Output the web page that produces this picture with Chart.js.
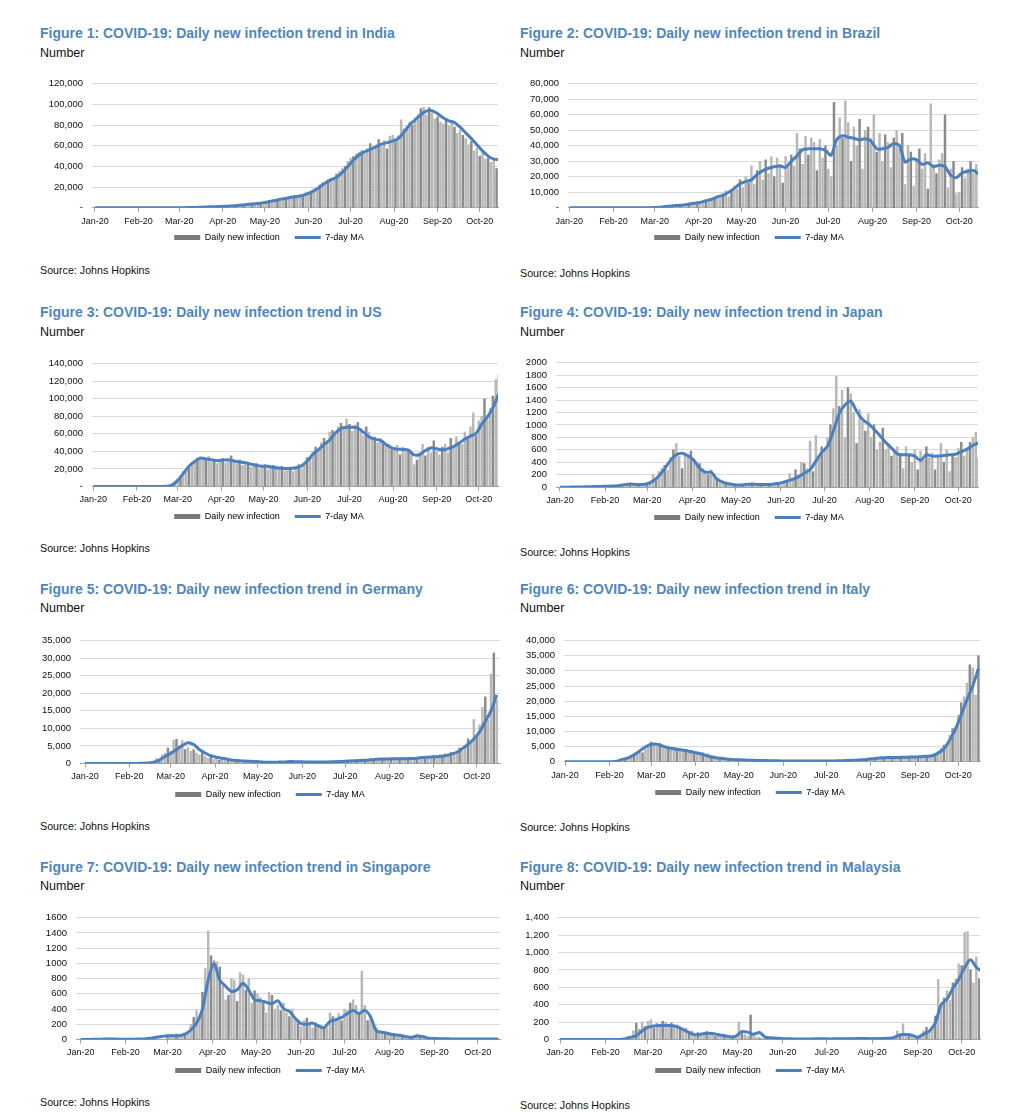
<!DOCTYPE html>
<html>
<head>
<meta charset="utf-8">
<script src="https://cdn.jsdelivr.net/npm/chart.js@4.4.1/dist/chart.umd.min.js"></script>
<style>
  body { margin: 0; background: #fff; font-family: "Liberation Sans", Arial, sans-serif; }
  #page { position: relative; width: 1011px; height: 1116px; overflow: hidden; }
  .title { position: absolute; font-size: 14px; line-height: 14px; font-weight: bold; color: #4f86bd; white-space: nowrap; }
  .unit { position: absolute; font-size: 12.5px; line-height: 12.5px; color: #111; }
  .source { position: absolute; font-size: 10.7px; line-height: 10.7px; color: #111; white-space: nowrap; }
  canvas { position: absolute; }
</style>
</head>
<body>
<div id="page"></div>
<script>
// x positions are days counted from 22 Jan 2020; axis labels sit on the 22nd of each month
const monthDays = [0, 31, 60, 91, 121, 152, 182, 213, 244, 274];
const monthLabels = ['Jan-20', 'Feb-20', 'Mar-20', 'Apr-20', 'May-20', 'Jun-20', 'Jul-20', 'Aug-20', 'Sep-20', 'Oct-20'];

// 7-day moving averages, one value every 4 days from 22 Jan
const maStep = 4;
// daily new infections, one bar every 2 days from each country's start day
const barStep = 2;

const indiaMA = [
  0, 0, 0, 0, 0, 0, 0, 0, 0, 0,
  0, 10, 20, 40, 70, 100, 150, 250, 400, 600,
  800, 1000, 1200, 1400, 1700, 2000, 2600, 3200, 3600, 4200,
  5000, 6000, 7000, 8200, 9200, 10200, 11000, 12000, 14000, 16500,
  20000, 24000, 27000, 29500, 34000, 40000, 46000, 51000, 54000, 56500,
  59000, 61500, 63000, 64500, 67000, 73000, 80000, 85000, 90000, 93500,
  94000, 91000, 87000, 84000, 82500, 78000, 72500, 67000, 61000, 55000,
  50000, 47000, 46500];
const indiaBarStart = 70;
const indiaBars = [
  350, 450, 500, 650, 700, 850, 900, 1050, 1100, 1250,
  1300, 1500, 1600, 1800, 1900, 2300, 2500, 2900, 3100, 3400,
  3500, 3800, 4000, 4800, 4900, 5600, 6000, 6600, 6800, 7500,
  7900, 8800, 9400, 9900, 9500, 10900, 11500, 11200, 12000, 13000,
  14500, 15000, 16000, 18500, 19500, 22000, 24500, 25000, 27000, 28500,
  29000, 32500, 35000, 38000, 40000, 45000, 48000, 49500, 52500, 54000,
  55000, 52000, 57000, 62000, 56000, 60500, 66000, 62000, 65000, 57000,
  69000, 70000, 64000, 69500, 85000, 76000, 78500, 83000, 80000, 87000,
  90000, 96000, 97500, 90000, 97000, 92000, 86000, 88000, 83000, 81000,
  86000, 79000, 82000, 78000, 72000, 75000, 70000, 67000, 61000, 64000,
  55000, 58000, 50000, 54000, 47000, 48000, 44000, 46000, 38000, 45000];

const brazilMA = [
  0, 0, 0, 0, 0, 0, 0, 0, 0, 0,
  0, 5, 20, 50, 100, 200, 400, 800, 1200, 1500,
  1800, 2400, 3000, 3500, 4500, 5500, 7000, 8000, 10000, 12500,
  15500, 17000, 18000, 21500, 24000, 25500, 26500, 27000, 26000, 30000,
  33500, 37500, 38000, 38000, 38000, 37000, 34000, 44000, 46500, 45500,
  44800, 43800, 44500, 43000, 38000, 38000, 39000, 41500, 40000, 29500,
  31500, 31000, 28000, 29000, 26500, 27500, 26500, 21000, 19500, 22500,
  23500, 24000, 21500];
const brazilBarStart = 60;
const brazilBars = [
  200, 300, 500, 700, 1000, 1100, 1300, 1500, 1700, 2000,
  1600, 2500, 2200, 3200, 3000, 3800, 3500, 5000, 4500, 5500,
  5000, 6500, 7500, 6000, 9000, 11000, 7000, 11500, 14000, 12000,
  18000, 13000, 20000, 16000, 27000, 15000, 24000, 30000, 18000, 31000,
  22000, 33000, 20000, 32000, 28000, 16000, 33000, 26000, 34000, 27000,
  48000, 38000, 28000, 46000, 34000, 45000, 42000, 24000, 44000, 32000,
  40000, 25000, 20000, 68000, 40000, 58000, 45000, 69000, 55000, 30000,
  52000, 40000, 57000, 25000, 50000, 52000, 45000, 60000, 36000, 48000,
  30000, 47000, 42000, 26000, 45000, 50000, 38000, 48000, 15000, 40000,
  36000, 14000, 30000, 38000, 25000, 35000, 12000, 67000, 28000, 22000,
  31000, 35000, 60000, 13000, 25000, 30000, 9000, 10000, 26000, 19000,
  25000, 30000, 22000, 28000, 20000];

const usMA = [
  0, 0, 0, 0, 0, 0, 0, 0, 0, 0,
  10, 30, 80, 300, 1500, 7000, 15000, 23000, 28500, 32500,
  31500, 30500, 29500, 30000, 30500, 29000, 28000, 27000, 25500, 24000,
  23000, 23000, 22000, 21000, 20600, 20600, 21300, 23500, 29000, 36500,
  42000, 48000, 53000, 61000, 66000, 67500, 67500, 66500, 62000, 56500,
  54000, 52500, 48000, 44000, 42500, 42300, 41600, 36000, 36500, 41000,
  44000, 43000, 41600, 43000, 45500, 49500, 54000, 57500, 60400, 71000,
  79000, 90000, 105000];
const usBarStart = 50;
const usBars = [
  300, 600, 1000, 2500, 5000, 8000, 11000, 17000, 19000, 21000,
  25000, 28000, 31000, 33000, 32000, 30000, 34000, 28000, 30000, 26000,
  29000, 32000, 27000, 30000, 35000, 28000, 26000, 30000, 24000, 25000,
  27000, 22000, 24000, 26000, 20000, 23000, 25000, 19000, 22000, 24000,
  20000, 21000, 23000, 18000, 20000, 22000, 17000, 22000, 25000, 20000,
  26000, 33000, 31000, 40000, 45000, 42000, 50000, 55000, 52000, 62000,
  64000, 60000, 68000, 72000, 65000, 77000, 71000, 63000, 70000, 73000,
  66000, 58000, 68000, 62000, 55000, 56000, 50000, 55000, 52000, 46000,
  48000, 42000, 45000, 47000, 36000, 45000, 42000, 40000, 38000, 25000,
  30000, 36000, 48000, 35000, 45000, 38000, 52000, 40000, 36000, 45000,
  48000, 38000, 55000, 44000, 57000, 50000, 48000, 62000, 56000, 68000,
  84000, 58000, 75000, 80000, 100000, 76000, 89000, 103000, 122000, 127000];

const japanMA = [
  0, 0, 2, 3, 5, 8, 10, 12, 15, 18,
  25, 40, 50, 45, 42, 55, 100, 180, 300, 430,
  520, 545, 505, 434, 306, 240, 240, 128, 80, 55,
  40, 35, 45, 50, 45, 42, 45, 55, 70, 95,
  125, 165, 225, 280, 420, 560, 660, 900, 1180, 1320,
  1378, 1220, 1090, 1020, 930, 830, 720, 630, 536, 520,
  520, 500, 430, 520, 500, 500, 510, 520, 530, 570,
  612, 673, 714];
const japanBarStart = 30;
const japanBars = [
  5, 10, 8, 15, 20, 10, 30, 40, 60, 35,
  50, 40, 60, 30, 45, 50, 70, 200, 150, 250,
  300, 350, 280, 480, 600, 700, 500, 300, 500, 520,
  580, 450, 400, 380, 300, 250, 200, 280, 220, 150,
  100, 80, 60, 50, 40, 30, 45, 35, 30, 50,
  40, 55, 60, 40, 50, 35, 45, 60, 55, 50,
  70, 60, 50, 100, 220, 150, 280, 200, 400, 380,
  300, 740, 250, 830, 500, 650, 600, 800, 1000, 1260,
  1780, 1300, 1560, 800, 1600, 1500, 1200, 700, 1250, 1050,
  900, 1180, 800, 1000, 600, 720, 950, 600, 700, 500,
  580, 650, 520, 300, 650, 500, 400, 600, 280, 580,
  430, 650, 470, 550, 280, 500, 700, 400, 600, 250,
  500, 480, 620, 720, 500, 600, 720, 800, 880, 480];

const germanyMA = [
  0, 0, 0, 0, 0, 2, 5, 5, 10, 30,
  80, 150, 400, 1000, 2000, 2900, 4000, 5100, 5900, 5400,
  4000, 3000, 2200, 1800, 1500, 1200, 900, 800, 700, 620,
  550, 450, 380, 360, 400, 440, 550, 500, 480, 420,
  400, 430, 450, 470, 520, 600, 700, 780, 850, 900,
  1050, 1200, 1260, 1300, 1350, 1350, 1350, 1400, 1500, 1700,
  1800, 1900, 2000, 2200, 2600, 3200, 4200, 5500, 7000, 9000,
  12000, 15000, 19500];
const germanyBarStart = 40;
const germanyBars = [
  50, 100, 200, 300, 500, 1500, 1000, 2500, 3000, 4500,
  3500, 6600, 6900, 5000, 6500, 4000, 4600, 3500, 4000, 3000,
  2500, 3000, 2000, 1500, 1800, 1200, 1600, 900, 1100, 800,
  1000, 700, 900, 600, 800, 500, 700, 400, 600, 350,
  500, 300, 400, 350, 300, 450, 250, 400, 300, 350,
  400, 600, 500, 700, 450, 500, 400, 350, 500, 300,
  400, 500, 350, 450, 550, 600, 500, 700, 800, 600,
  900, 700, 850, 1000, 800, 1100, 900, 1300, 1200, 1000,
  1400, 1200, 1300, 1500, 1100, 1400, 1200, 1500, 1300, 1400,
  1500, 1200, 1400, 1600, 1300, 1500, 1700, 2000, 1800, 1600,
  2000, 1900, 2300, 1800, 2500, 2000, 2800, 2500, 3200, 2600,
  3000, 4500, 3500, 5000, 7000, 6000, 12500, 7500, 11000, 16000,
  19000, 12500, 25500, 31500, 18000];

const italyMA = [
  0, 0, 0, 0, 0, 0, 0, 0, 30, 200,
  800, 1300, 2300, 3600, 4900, 5800, 5800, 5200, 4600, 4300,
  4000, 3700, 3300, 2900, 2400, 1850, 1400, 1150, 950, 800,
  700, 625, 550, 480, 430, 390, 340, 313, 300, 290,
  280, 270, 260, 250, 250, 260, 280, 300, 350, 420,
  480, 560, 650, 900, 1100, 1300, 1380, 1430, 1460, 1500,
  1550, 1600, 1700, 1800, 2000, 2900, 4300, 7200, 10800, 15500,
  20500, 25000, 30800];
const italyBarStart = 30;
const italyBars = [
  20, 50, 100, 200, 400, 600, 900, 1200, 1500, 2000,
  2500, 3500, 3000, 4200, 5000, 6500, 5500, 5200, 6000, 5500,
  4800, 5000, 4200, 4600, 3800, 4500, 3600, 4000, 3200, 3800,
  3000, 3200, 2600, 3000, 2300, 2600, 1900, 2000, 1500, 1600,
  1200, 1300, 1000, 900, 800, 900, 700, 600, 650, 500,
  450, 500, 400, 350, 380, 300, 350, 330, 250, 300,
  280, 250, 300, 200, 250, 220, 190, 230, 200, 180,
  250, 190, 230, 280, 200, 300, 280, 250, 350, 300,
  380, 400, 300, 450, 400, 500, 550, 600, 800, 900,
  1000, 1300, 1100, 1400, 1200, 1500, 1300, 1600, 1400, 1300,
  1600, 1500, 1400, 1700, 1600, 1500, 1700, 1800, 1600, 1900,
  1800, 2000, 2200, 2500, 2800, 3500, 4500, 5500, 5000, 8800,
  11000, 11500, 15500, 19500, 21500, 26000, 32000, 31000, 22000, 35000];

const singaporeMA = [
  0, 1, 2, 3, 5, 6, 5, 4, 3, 4,
  5, 8, 15, 30, 40, 48, 50, 50, 70, 125,
  217, 400, 780, 1000, 780, 700, 633, 654, 738, 650,
  520, 510, 490, 470, 510, 404, 370, 280, 210, 200,
  215, 180, 154, 238, 260, 290, 340, 385, 340, 383,
  300, 113, 95, 80, 62, 55, 40, 28, 45, 40,
  18, 12, 10, 9, 8, 8, 6, 8, 6, 7,
  7, 6, 7];
const singaporeBarStart = 60;
const singaporeBars = [
  40, 60, 50, 70, 50, 60, 80, 100, 200, 290,
  380, 280, 620, 930, 1426, 1100, 1040, 1020, 950, 700,
  520, 580, 800, 780, 500, 880, 850, 650, 800, 480,
  640, 600, 550, 480, 350, 620, 580, 400, 450, 380,
  480, 350, 300, 400, 250, 230, 170, 250, 280, 200,
  150, 220, 200, 180, 170, 150, 350, 300, 250, 340,
  250, 400, 380, 480, 520, 450, 330, 900, 450, 250,
  300, 180, 150, 100, 90, 80, 70, 60, 80, 50,
  60, 50, 40, 35, 30, 50, 70, 45, 30, 25,
  20, 15, 25, 12, 10, 15, 8, 12, 10, 8,
  10, 8, 6, 12, 5, 10, 8, 6, 8, 10,
  6, 8, 5, 10, 7];

const malaysiaMA = [
  0, 0, 0, 0, 0, 0, 0, 0, 0, 0,
  1, 5, 25, 44, 100, 140, 155, 160, 160, 160,
  145, 115, 80, 55, 60, 72, 70, 55, 45, 30,
  40, 90, 85, 60, 80, 28, 20, 15, 10, 8,
  7, 6, 6, 7, 8, 8, 7, 8, 9, 10,
  10, 11, 11, 10, 10, 12, 15, 25, 55, 58,
  50, 25, 62, 98, 190, 400, 463, 590, 690, 828,
  918, 830, 780];
const malaysiaBarStart = 40;
const malaysiaBars = [
  2, 5, 10, 30, 40, 100, 190, 120, 200, 150,
  210, 230, 130, 190, 160, 210, 200, 170, 190, 140,
  170, 130, 110, 130, 90, 100, 60, 80, 50, 60,
  90, 70, 50, 40, 70, 30, 60, 40, 50, 20,
  30, 200, 80, 60, 40, 280, 60, 30, 20, 15,
  20, 10, 15, 8, 10, 5, 12, 6, 8, 5,
  6, 10, 5, 8, 12, 6, 10, 5, 8, 10,
  12, 8, 10, 6, 15, 10, 8, 12, 10, 15,
  8, 12, 10, 15, 8, 10, 12, 20, 15, 10,
  20, 15, 12, 25, 30, 100, 50, 180, 70, 40,
  60, 40, 20, 30, 100, 140, 90, 150, 270, 690,
  400, 480, 560, 450, 650, 700, 870, 850, 1230, 1240,
  800, 650, 950, 700, 800];

const figures = [
  { title: 'Figure 1: COVID-19: Daily new infection trend in India', ma: indiaMA, bars: indiaBars, barStart: indiaBarStart,
    yMax: 120000, yStep: 20000, zero: '-', comma: true,
    left: 40, plotLeft: 92, plotRight: 498, plotTop: 77.3, plotBottom: 208.3, xMin: -2.1, xMax: 287,
    titleY: 32.7, unitY: 53.3, legendY: 238, sourceY: 270.7 },
  { title: 'Figure 2: COVID-19: Daily new infection trend in Brazil', ma: brazilMA, bars: brazilBars, barStart: brazilBarStart,
    yMax: 80000, yStep: 10000, zero: '-', comma: true,
    left: 520, plotLeft: 568, plotRight: 978, plotTop: 77.3, plotBottom: 208.3, xMin: -0.9, xMax: 287.2,
    titleY: 32.7, unitY: 53.3, legendY: 238, sourceY: 273 },
  { title: 'Figure 3: COVID-19: Daily new infection trend in US', ma: usMA, bars: usBars, barStart: usBarStart,
    yMax: 140000, yStep: 20000, zero: '-', comma: true,
    left: 40, plotLeft: 92, plotRight: 498, plotTop: 356.7, plotBottom: 485.7, xMin: -0.9, xMax: 287.6,
    titleY: 311.7, unitY: 332, legendY: 515.7, sourceY: 548 },
  { title: 'Figure 4: COVID-19: Daily new infection trend in Japan', ma: japanMA, bars: japanBars, barStart: japanBarStart,
    yMax: 2000, yStep: 200, zero: '0', comma: false,
    left: 520, plotLeft: 556, plotRight: 978, plotTop: 356, plotBottom: 486.7, xMin: -2.75, xMax: 287.5,
    titleY: 311.7, unitY: 332, legendY: 517, sourceY: 552 },
  { title: 'Figure 5: COVID-19: Daily new infection trend in Germany', ma: germanyMA, bars: germanyBars, barStart: germanyBarStart,
    yMax: 35000, yStep: 5000, zero: '0', comma: true,
    left: 40, plotLeft: 80, plotRight: 500, plotTop: 633.7, plotBottom: 763, xMin: -3.5, xMax: 290.3,
    titleY: 588.7, unitY: 608, legendY: 794, sourceY: 826 },
  { title: 'Figure 6: COVID-19: Daily new infection trend in Italy', ma: italyMA, bars: italyBars, barStart: italyBarStart,
    yMax: 40000, yStep: 5000, zero: '0', comma: true,
    left: 520, plotLeft: 564, plotRight: 980, plotTop: 633.7, plotBottom: 761.3, xMin: -0.7, xMax: 289.1,
    titleY: 588.7, unitY: 608, legendY: 792, sourceY: 827 },
  { title: 'Figure 7: COVID-19: Daily new infection trend in Singapore', ma: singaporeMA, bars: singaporeBars, barStart: singaporeBarStart,
    yMax: 1600, yStep: 200, zero: '0', comma: false,
    left: 40, plotLeft: 76, plotRight: 500, plotTop: 911, plotBottom: 1039, xMin: -3.2, xMax: 289.3,
    titleY: 866.7, unitY: 886, legendY: 1070, sourceY: 1102.7 },
  { title: 'Figure 8: COVID-19: Daily new infection trend in Malaysia', ma: malaysiaMA, bars: malaysiaBars, barStart: malaysiaBarStart,
    yMax: 1400, yStep: 200, zero: '0', comma: true,
    left: 520, plotLeft: 558, plotRight: 980, plotTop: 911, plotBottom: 1039, xMin: -1.4, xMax: 286.5,
    titleY: 866.7, unitY: 886, legendY: 1070, sourceY: 1105 }
];

const FONT = '"Liberation Sans", Arial, sans-serif';
const LINE_BLUE = '#4a80bd';
const BAR_GREY = '#7a7a7a';
const page = document.getElementById('page');

function addText(cls, text, x, y, size) {
  const d = document.createElement('div');
  d.className = cls;
  d.textContent = text;
  d.style.left = x + 'px';
  d.style.top = (y - size / 2) + 'px';
  page.appendChild(d);
}

function toPoints(start, step, values) {
  return values.map((v, i) => ({ x: start + i * step, y: v }));
}

figures.forEach(f => {
  addText('title', f.title, f.left, f.titleY, 14);
  addText('unit', 'Number', f.left, f.unitY, 12.5);
  addText('source', 'Source: Johns Hopkins', f.left, f.sourceY, 10.7);

  const padTop = 8;
  const legendPad = 5;
  const xAxisH = f.legendY - f.plotBottom - legendPad - 4.5;
  const legendH = 9 + legendPad + 10;
  const canvas = document.createElement('canvas');
  const w = Math.round(f.plotRight + 4 - f.left);
  const h = Math.round(padTop + (f.plotBottom - f.plotTop) + xAxisH + legendH);
  canvas.width = w;
  canvas.height = h;
  canvas.style.left = f.left + 'px';
  canvas.style.top = (f.plotTop - padTop) + 'px';
  page.appendChild(canvas);

  new Chart(canvas, {
    type: 'line',
    data: {
      datasets: [
        {
          type: 'line',
          label: '7-day MA',
          data: toPoints(0, maStep, f.ma),
          borderColor: LINE_BLUE,
          borderWidth: 3,
          pointRadius: 0,
          tension: 0.3,
          order: 0
        },
        {
          type: 'bar',
          label: 'Daily new infection',
          data: toPoints(f.barStart, barStep, f.bars),
          backgroundColor: ctx => (ctx.dataIndex % 3 === 0 ? '#8a8a8a' : '#b8b8b8'),
          barThickness: 1.8,
          order: 1
        }
      ]
    },
    options: {
      responsive: false,
      animation: false,
      layout: { padding: { top: padTop, right: 4, left: 0, bottom: 0 } },
      plugins: {
        tooltip: { enabled: false },
        legend: {
          position: 'bottom',
          labels: {
            usePointStyle: true,
            pointStyleWidth: 26,
            boxHeight: 5,
            padding: legendPad,
            color: '#111',
            font: { family: FONT, size: 9 },
            generateLabels: () => [
              { text: 'Daily new infection    ', fillStyle: BAR_GREY, strokeStyle: BAR_GREY, lineWidth: 0, pointStyle: 'rect', datasetIndex: 1 },
              { text: '7-day MA', fillStyle: LINE_BLUE, strokeStyle: LINE_BLUE, lineWidth: 3, pointStyle: 'line', datasetIndex: 0 }
            ]
          }
        }
      },
      scales: {
        x: {
          type: 'linear',
          min: f.xMin,
          max: f.xMax,
          offset: false,
          afterBuildTicks: s => { s.ticks = monthDays.map(v => ({ value: v })); },
          afterFit: s => { s.height = xAxisH; },
          ticks: {
            autoSkip: false,
            maxRotation: 0,
            padding: 4,
            color: '#111',
            font: { family: FONT, size: 9 },
            callback: (v, i) => monthLabels[i]
          },
          grid: { drawOnChartArea: false, drawTicks: true, tickLength: 4, color: '#a0a0a0', offset: false },
          border: { color: '#a0a0a0' }
        },
        y: {
          min: 0,
          max: f.yMax,
          afterFit: s => { s.width = f.plotLeft - f.left; },
          ticks: {
            stepSize: f.yStep,
            autoSkip: false,
            padding: 9,
            color: '#111',
            font: { family: FONT, size: 9.5 },
            callback: v => (v === 0 ? f.zero : (f.comma ? v.toLocaleString('en-US') : String(v)))
          },
          grid: { color: '#d9d9d9', drawTicks: false },
          border: { display: false }
        }
      }
    }
  });
});
</script>
</body>
</html>
